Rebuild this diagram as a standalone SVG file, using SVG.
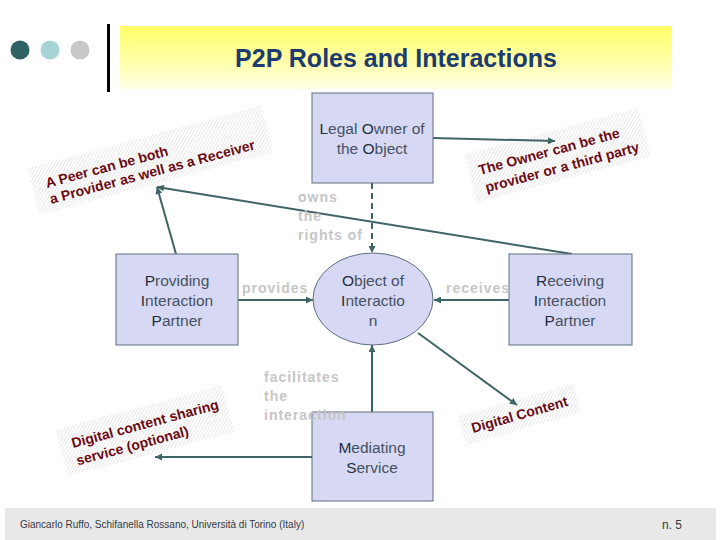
<svg xmlns="http://www.w3.org/2000/svg" width="720" height="540" viewBox="0 0 720 540">
<defs>
<linearGradient id="ybar" x1="0" y1="0" x2="0" y2="1">
<stop offset="0" stop-color="#FFFF66"/>
<stop offset="0.55" stop-color="#FFFFA8"/>
<stop offset="1" stop-color="#FFFFE6"/>
</linearGradient>
<pattern id="hatch" patternUnits="userSpaceOnUse" width="4" height="4">
<path d="M-1,1 L1,-1 M0,4 L4,0 M3,5 L5,3" stroke="#C6C6C6" stroke-width="0.7"/>
</pattern>
<marker id="ah" viewBox="0 0 10 10" refX="10" refY="5" markerWidth="8" markerHeight="7" markerUnits="userSpaceOnUse" orient="auto">
<path d="M0,0 L10,5 L0,10 z" fill="#3F6464"/>
</marker>
</defs>
<style>
.node{fill:#D6D8F4;stroke:#5F6E7E;stroke-width:1}
.nt{font-family:"Liberation Sans",Arial,sans-serif;font-size:15.5px;fill:#46525F;text-anchor:middle}
.nt tspan.c{fill:#222E3C}
.lbl{font-family:"Liberation Sans",Arial,sans-serif;font-size:14px;font-weight:bold;fill:#C6C6C6;letter-spacing:1px}
.note{font-family:"Liberation Sans",Arial,sans-serif;font-size:14px;font-weight:bold;fill:#6B0A12}
.hat{fill:url(#hatch);opacity:0.8}
.con{stroke:#3F6464;stroke-width:2;fill:none;marker-end:url(#ah)}
</style>
<rect width="720" height="540" fill="#FFFFFF"/>
<g id="header">
<circle cx="20" cy="50" r="9.5" fill="#2F6262"/>
<circle cx="50" cy="50" r="9.5" fill="#A8D3D3"/>
<circle cx="80" cy="50" r="9.5" fill="#C8C8C8"/>
<rect x="107" y="24" width="3" height="68" fill="#000000"/>
<rect x="120" y="26" width="552" height="63" fill="url(#ybar)"/>
<text x="396" y="67" text-anchor="middle" font-family="'Liberation Sans',Arial,sans-serif" font-size="25" font-weight="bold" fill="#1C3B6E">P2P Roles and Interactions</text>
</g>
<g id="footer">
<rect x="5" y="508" width="711" height="32" fill="#E8E8E8"/>
<text x="20" y="528" font-family="'Liberation Sans',Arial,sans-serif" font-size="10" fill="#333A48">Giancarlo Ruffo, Schifanella Rossano, Università di Torino (Italy)</text>
<text x="662" y="529" font-family="'Liberation Sans',Arial,sans-serif" font-size="12" fill="#333A48">n. 5</text>
</g>
<g id="note-peer" transform="translate(47,188) rotate(-15)">
<rect class="hat" x="-14" y="-24" width="242" height="48"/>
<text class="note" x="0" y="0">A Peer can be both</text>
<text class="note" x="0" y="16.5">a Provider as well as a Receiver</text>
</g>
<g id="note-owner" transform="translate(480,175) rotate(-15)">
<rect class="hat" x="-10" y="-24" width="180" height="50"/>
<text class="note" x="0" y="0">The Owner can be the</text>
<text class="note" x="2" y="18.5">provider or a third party</text>
</g>
<g id="note-sharing" transform="translate(73,448) rotate(-15)">
<rect class="hat" x="-12" y="-22" width="172" height="48"/>
<text class="note" x="0" y="0">Digital content sharing</text>
<text class="note" x="0" y="18">service (optional)</text>
</g>
<g id="note-content" transform="translate(473,433) rotate(-16)">
<rect class="hat" x="-10" y="-20" width="120" height="30"/>
<text class="note" x="0" y="0">Digital Content</text>
</g>
<g id="connectors">
<line class="con" x1="433" y1="138" x2="555" y2="141"/>
<line class="con" x1="372" y1="183" x2="372" y2="253" stroke-dasharray="6,4"/>
<line class="con" x1="238" y1="300" x2="313" y2="300"/>
<line class="con" x1="509" y1="300" x2="434" y2="300"/>
<line class="con" x1="372" y1="412" x2="372" y2="345"/>
<line class="con" x1="418" y1="333" x2="517" y2="405"/>
<line class="con" x1="312" y1="457" x2="155" y2="457"/>
<line class="con" x1="176" y1="254" x2="157" y2="187"/>
<line class="con" x1="572" y1="254" x2="157" y2="187"/>
</g>
<g id="legal-owner">
<rect class="node" x="312" y="93" width="121" height="90"/>
<text class="nt" x="372" y="134"><tspan class="c">L</tspan>egal <tspan class="c">O</tspan>wner of</text>
<text class="nt" x="372" y="154">the <tspan class="c">O</tspan>bject</text>
</g>
<g id="providing">
<rect class="node" x="116" y="254" width="122" height="91"/>
<text class="nt" x="177" y="286"><tspan class="c">P</tspan>roviding</text>
<text class="nt" x="177" y="306"><tspan class="c">I</tspan>nteraction</text>
<text class="nt" x="177" y="326"><tspan class="c">P</tspan>artner</text>
</g>
<g id="object">
<ellipse class="node" cx="373" cy="299" rx="60" ry="46"/>
<text class="nt" x="373" y="286"><tspan class="c">O</tspan>bject of</text>
<text class="nt" x="373" y="306"><tspan class="c">I</tspan>nteractio</text>
<text class="nt" x="373" y="326">n</text>
</g>
<g id="receiving">
<rect class="node" x="509" y="254" width="123" height="91"/>
<text class="nt" x="570" y="286"><tspan class="c">R</tspan>eceiving</text>
<text class="nt" x="570" y="306"><tspan class="c">I</tspan>nteraction</text>
<text class="nt" x="570" y="326"><tspan class="c">P</tspan>artner</text>
</g>
<g id="mediating">
<rect class="node" x="312" y="412" width="121" height="89"/>
<text class="nt" x="372" y="453"><tspan class="c">M</tspan>ediating</text>
<text class="nt" x="372" y="473"><tspan class="c">S</tspan>ervice</text>
</g>
<g id="labels">
<text class="lbl" x="298" y="202">owns</text>
<text class="lbl" x="298" y="221">the</text>
<text class="lbl" x="298" y="240">rights of</text>
<text class="lbl" x="242" y="293">provides</text>
<text class="lbl" x="446" y="293">receives</text>
<text class="lbl" x="264" y="382">facilitates</text>
<text class="lbl" x="264" y="401">the</text>
<text class="lbl" x="264" y="420">interaction</text>
</g>
</svg>
